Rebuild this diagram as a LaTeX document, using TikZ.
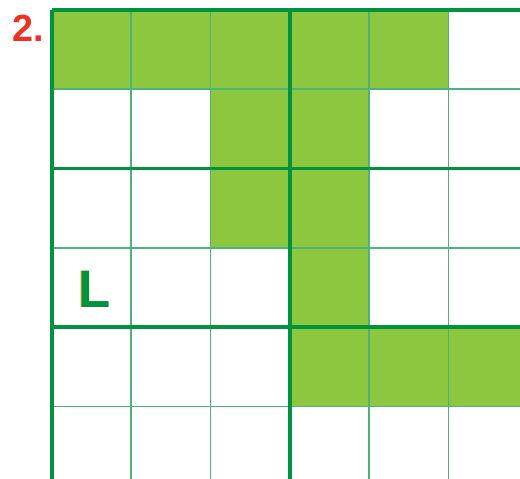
\documentclass[tikz,border=0pt]{standalone}
\usepackage{fontspec}
\setmainfont{Liberation Sans}
\definecolor{cellgreen}{HTML}{8DC63F}
\definecolor{linegreen}{HTML}{00923F}
\definecolor{numred}{HTML}{EE3124}
\definecolor{shadoworange}{HTML}{F7A941}
\tikzset{
  thinline/.style={draw=linegreen!70, line width=0.9pt},
  thickline/.style={draw=linegreen, line width=2.2pt},
  numlabel/.style={text=numred, font=\bfseries\fontsize{21.5}{24}\selectfont},
  letter/.style={font=\bfseries\fontsize{30}{34}\selectfont}
}
\begin{document}
\begin{tikzpicture}[x=0.02cm,y=-0.02cm]

    \useasboundingbox (0,0) rectangle (520,479);
    \clip (0,0) rectangle (520,479);

    % Labels
    \node[numlabel](num) at (28,28){2.};

    \begin{scope}[shift={(52,10)}, x=1.586cm, y=-1.586cm]
        % Cells
        \foreach \c/\r in {0/0,1/0,2/0,3/0,4/0,2/1,3/1,2/2,3/2,3/3,3/4,4/4,5/4}
            \fill[cellgreen](\c,\r) rectangle ++(1,1);
        % Thin lines
        \foreach \i in {1,2,4,5,6}
            \draw[thinline](\i,0) -- (\i,6.2);
        \foreach \i in {1,3,5,6}
            \draw[thinline](0,\i) -- (6.2,\i);
        % Thick lines
        \foreach \i in {0,3}
            \draw[thickline](\i,0) -- (\i,6.2);
        \foreach \i in {0,2,4}
            \draw[thickline](0,\i) -- (6.2,\i);
        % Letter
        \node[letter, text=shadoworange](lshadow) at (0.52,3.52){L};
        \node[letter, text=linegreen](lletter) at ([xshift=0.8pt]lshadow.center){L};
    \end{scope}

\end{tikzpicture}
\end{document}
